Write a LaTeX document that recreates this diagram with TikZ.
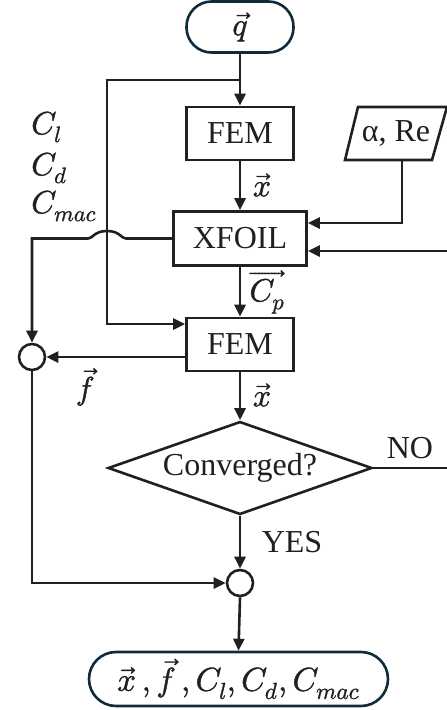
\documentclass[tikz,border=0pt]{standalone}
\usepackage{fontspec}
\usepackage{unicode-math}
\setmainfont{Liberation Serif}
\setmathfont{Latin Modern Math}[FakeBold=1.2]
\usetikzlibrary{arrows.meta,shapes.geometric}
\definecolor{ln}{HTML}{231F20}
\definecolor{nv}{HTML}{0E2A3B}
\begin{document}
\begin{tikzpicture}[x=1pt,y=-1pt,line width=2.6pt,
  every node/.style={font=\fontsize{32}{38}\selectfont,inner sep=0pt,text=ln},
  box/.style={draw=ln,minimum width=107pt,minimum height=53pt},
  term/.style={draw=nv},
  lab/.style={font=\fontsize{32}{38}\selectfont},
  junc/.style={circle,draw=ln,minimum size=26pt},
  con/.style={draw=ln,-{Triangle[length=12pt,width=11pt]}},
  plain/.style={draw=ln}]
\useasboundingbox (0,0) rectangle (447,710);
% nodes
\node[term,rounded corners=25pt,minimum width=107pt,minimum height=51pt] (q) at (240,27) {$\vec{q}$};
\node[box] (fem1) at (240,133.5) {FEM};
\node[box,minimum width=133pt,minimum height=54pt] (xfoil) at (240,238.5) {XFOIL};
\node[minimum width=102pt,minimum height=53pt] (are) at (396,133.5) {α, Re};
\draw[plain] (345,160) -- (358,107) -- (447,107) -- (432,160) -- cycle;
\node[box] (fem2) at (240,344.5) {FEM};
\node[draw=ln,diamond,aspect=2.84,minimum width=264pt,minimum height=93pt] (dia) at (240,468) {Converged?};
\node[junc] (j1) at (32,357) {};
\node[junc] (j2) at (240,583) {};
\node[term,rounded corners=27pt,minimum width=299pt,minimum height=54pt] (out) at (238.5,679)
  {\fontsize{33}{38}\selectfont$\vec{x}\,,\vec{f}\,,C_l,C_d,C_{mac}$};
% labels
\node[lab,anchor=west] (cl) at (30,127) {$C_l$};
\node[lab,anchor=west] (cd) at (30,168) {$C_d$};
\node[lab,anchor=west] (cm) at (30,206) {$C_{mac}$};
\node[lab] (lx1) at (262,185) {$\vec{x}$};
\node[lab] (lcp) at (267,292) {$\overrightarrow{C_p}$};
\node[lab] (lx2) at (262,395) {$\vec{x}$};
\node[lab] (lf) at (85,387) {$\vec{f}$};
\node (yes) at (292,542) {YES};
\node (no) at (410,448) {NO};
% coordinates
\coordinate (br) at (240,80);
\coordinate (lv) at (107,80);
\coordinate (rin) at (447,251);
\coordinate (rno) at (447,468);
% connectors
\draw[con] (q) -- (fem1);
\draw[con] (fem1) -- (xfoil);
\draw[con] (xfoil) -- (fem2);
\draw[con] (fem2) -- (dia);
\draw[con] (br) -- (lv) |- ([yshift=20.5pt]fem2.west);
\draw[con] ([xshift=6pt]are.south) |- ([yshift=15.5pt]xfoil.east);
\draw[con] (rin) -- (rin -| xfoil.east);
\draw[con] (xfoil.west) -- (126,238.5)
  .. controls (121,238.5) and (120,231) .. (107,231)
  .. controls (94,231) and (93,238.5) .. (88,238.5) -| (j1.north);
\draw[con] ([yshift=-12.5pt]fem2.west) -- (j1.east);
\draw[con] (j1.south) |- (j2.west);
\draw[plain] (dia.east) -- (rno);
\draw[con] (dia.south) -- (j2.north);
\draw[con] (j2.south) -- (out.north);
\end{tikzpicture}
\end{document}
